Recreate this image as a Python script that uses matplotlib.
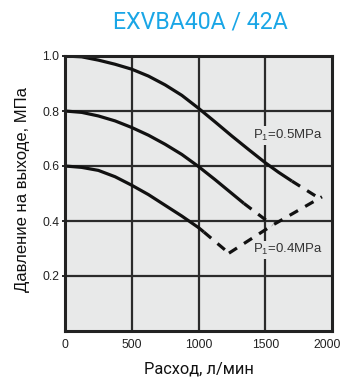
import matplotlib
matplotlib.use("Agg")
import matplotlib.pyplot as plt
import matplotlib.transforms as mtransforms

title = "EXVBA40A / 42A"
xlabel = "Расход, л/мин"
ylabel = "Давление на выходе, МПа"
xticks = [0, 500, 1000, 1500, 2000]
yticks = [0.2, 0.4, 0.6, 0.8, 1.0]

# curve starting at 1.0 MPa
c1_x = [0, 125, 250, 375, 500, 625, 750, 875, 1000, 1125, 1250, 1375, 1500, 1600, 1700]
c1_y = [1.0, 0.997, 0.985, 0.97, 0.952, 0.927, 0.895, 0.857, 0.81, 0.76, 0.709, 0.66, 0.612, 0.577, 0.545]
c1_dx = [1700, 1920]
c1_dy = [0.545, 0.478]
# curve starting at 0.8 MPa
c2_x = [0, 125, 250, 375, 500, 625, 750, 875, 1000, 1125, 1250, 1340]
c2_y = [0.8, 0.795, 0.782, 0.764, 0.74, 0.712, 0.679, 0.642, 0.598, 0.55, 0.5, 0.464]
c2_dx = [1340, 1555]
c2_dy = [0.464, 0.385]
# curve starting at 0.6 MPa
c3_x = [0, 125, 250, 375, 500, 625, 750, 875, 1000, 1040]
c3_y = [0.6, 0.595, 0.584, 0.561, 0.53, 0.496, 0.457, 0.418, 0.376, 0.36]
c3_dx = [1040, 1228]
c3_dy = [0.36, 0.283]
# flow limit envelope (dashed)
env_x = [1228, 1555, 1925]
env_y = [0.283, 0.385, 0.488]

fig = plt.figure(figsize=(3.44, 3.81), dpi=100)
ax = fig.add_axes([65/344, 1-331/381, 267/344, 275/381])
bg = "#e8e9e9"
ax.set_facecolor(bg)
ax.set_xlim(0, 2000)
ax.set_ylim(0, 1.0)
for v in [500, 1000, 1500]:
    ax.axvline(v, color="#2b2b2b", lw=1.6, zorder=1)
for v in [0.2, 0.4, 0.6, 0.8]:
    ax.axhline(v, color="#2b2b2b", lw=1.6, zorder=1)

lw = 2.3
col = "#111111"
for xs, ys, dxs, dys in [(c1_x, c1_y, c1_dx, c1_dy), (c2_x, c2_y, c2_dx, c2_dy), (c3_x, c3_y, c3_dx, c3_dy)]:
    ax.plot(xs, ys, color=col, lw=lw, solid_capstyle="butt", solid_joinstyle="round", zorder=3)
    ax.plot(dxs, dys, color=col, lw=lw, dashes=(3, 2.6), zorder=3)
ax.plot(env_x, env_y, color=col, lw=lw, dashes=(3, 2.6), zorder=3)

lab_kw = dict(fontsize=9.5, color="#333333", family="Liberation Sans", va="center", ha="left",
              zorder=4, bbox=dict(facecolor=bg, edgecolor="none", pad=1.2))
ax.text(1410, 0.71, "P$_{\\mathregular{1}}$=0.5MPa", **lab_kw)
ax.text(1410, 0.295, "P$_{\\mathregular{1}}$=0.4MPa", **lab_kw)

for s in ax.spines.values():
    s.set_linewidth(2.2)
    s.set_color("#222222")
    s.set_zorder(5)

ax.set_xticks(xticks)
ax.set_xticklabels([str(t) for t in xticks])
ax.set_yticks(yticks)
ax.set_yticklabels(["%.1f" % t for t in yticks])
ax.tick_params(axis="x", length=0, pad=6, labelsize=8.7, labelcolor="#222222")
ax.tick_params(axis="y", length=2, width=1.2, pad=2, labelsize=8.7, labelcolor="#222222")
for lab in ax.get_xticklabels() + ax.get_yticklabels():
    lab.set_family("Liberation Sans")
last = ax.get_xticklabels()[-1]
last.set_transform(last.get_transform() + mtransforms.ScaledTranslation(-5/100, 0, fig.dpi_scale_trans))

fig.text(200/344, 1-22/381, title, color="#1aa6e6", fontsize=16.7, family="Roboto",
         ha="center", va="center")
fig.text(199/344, 1-369/381, xlabel, fontsize=11.8, family="Roboto", ha="center", va="center", color="#111111")
fig.text(22.5/344, 1-189/381, ylabel, fontsize=12, family="Liberation Sans", rotation=90,
         ha="center", va="center", color="#111111")

fig.savefig("out.png", dpi=100)
